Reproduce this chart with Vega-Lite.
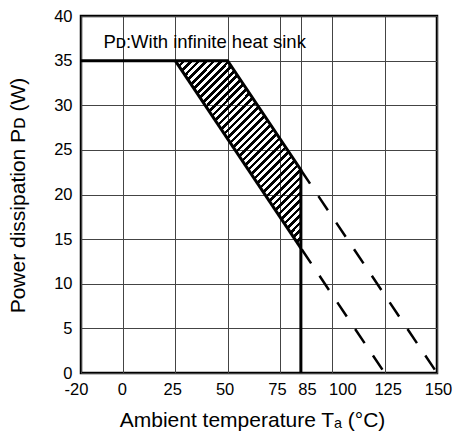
{
  "$schema": "https://vega.github.io/schema/vega-lite/v6.json",
  "autosize": {"type": "none"},
  "padding": {"left": 81, "top": 16, "right": 19, "bottom": 59},
  "width": 356,
  "height": 357,
  "background": "white",
  "config": {
    "view": {"stroke": "black", "strokeWidth": 2.5},
    "font": "Liberation Sans",
    "axis": {
      "labelFont": "Liberation Sans",
      "titleFont": "Liberation Sans",
      "labelColor": "black",
      "titleColor": "black",
      "labelFontSize": 16.5,
      "titleFontSize": 21,
      "titleFontWeight": "normal",
      "titleBaseline": "alphabetic",
      "ticks": false,
      "domain": false,
      "gridColor": "#444",
      "gridWidth": 1,
      "gridOpacity": 1,
      "labelFlush": false,
      "labelOverlap": false
    }
  },
  "layer": [
    {
      "data": {"values": [
        {"t": 25, "lo": 35, "hi": 35},
        {"t": 50, "lo": 26.25, "hi": 35},
        {"t": 85, "lo": 14, "hi": 22.75}
      ]},
      "mark": {
        "type": "area",
        "fill": {
          "gradient": "linear",
          "x1": 0, "y1": 0, "x2": 0.774, "y2": 1.152,
          "stops": [
            {"offset": 0, "color": "#000"}, {"offset": 0.0115, "color": "#000"}, {"offset": 0.0115, "color": "rgba(0,0,0,0)"}, {"offset": 0.024, "color": "rgba(0,0,0,0)"},
            {"offset": 0.024, "color": "#000"}, {"offset": 0.0355, "color": "#000"}, {"offset": 0.0355, "color": "rgba(0,0,0,0)"}, {"offset": 0.048, "color": "rgba(0,0,0,0)"},
            {"offset": 0.048, "color": "#000"}, {"offset": 0.0595, "color": "#000"}, {"offset": 0.0595, "color": "rgba(0,0,0,0)"}, {"offset": 0.072, "color": "rgba(0,0,0,0)"},
            {"offset": 0.072, "color": "#000"}, {"offset": 0.0835, "color": "#000"}, {"offset": 0.0835, "color": "rgba(0,0,0,0)"}, {"offset": 0.096, "color": "rgba(0,0,0,0)"},
            {"offset": 0.096, "color": "#000"}, {"offset": 0.1075, "color": "#000"}, {"offset": 0.1075, "color": "rgba(0,0,0,0)"}, {"offset": 0.12, "color": "rgba(0,0,0,0)"},
            {"offset": 0.12, "color": "#000"}, {"offset": 0.1315, "color": "#000"}, {"offset": 0.1315, "color": "rgba(0,0,0,0)"}, {"offset": 0.144, "color": "rgba(0,0,0,0)"},
            {"offset": 0.144, "color": "#000"}, {"offset": 0.1555, "color": "#000"}, {"offset": 0.1555, "color": "rgba(0,0,0,0)"}, {"offset": 0.168, "color": "rgba(0,0,0,0)"},
            {"offset": 0.168, "color": "#000"}, {"offset": 0.1795, "color": "#000"}, {"offset": 0.1795, "color": "rgba(0,0,0,0)"}, {"offset": 0.192, "color": "rgba(0,0,0,0)"},
            {"offset": 0.192, "color": "#000"}, {"offset": 0.2035, "color": "#000"}, {"offset": 0.2035, "color": "rgba(0,0,0,0)"}, {"offset": 0.216, "color": "rgba(0,0,0,0)"},
            {"offset": 0.216, "color": "#000"}, {"offset": 0.2275, "color": "#000"}, {"offset": 0.2275, "color": "rgba(0,0,0,0)"}, {"offset": 0.24, "color": "rgba(0,0,0,0)"},
            {"offset": 0.24, "color": "#000"}, {"offset": 0.2515, "color": "#000"}, {"offset": 0.2515, "color": "rgba(0,0,0,0)"}, {"offset": 0.264, "color": "rgba(0,0,0,0)"},
            {"offset": 0.264, "color": "#000"}, {"offset": 0.2755, "color": "#000"}, {"offset": 0.2755, "color": "rgba(0,0,0,0)"}, {"offset": 0.288, "color": "rgba(0,0,0,0)"},
            {"offset": 0.288, "color": "#000"}, {"offset": 0.2995, "color": "#000"}, {"offset": 0.2995, "color": "rgba(0,0,0,0)"}, {"offset": 0.312, "color": "rgba(0,0,0,0)"},
            {"offset": 0.312, "color": "#000"}, {"offset": 0.3235, "color": "#000"}, {"offset": 0.3235, "color": "rgba(0,0,0,0)"}, {"offset": 0.336, "color": "rgba(0,0,0,0)"},
            {"offset": 0.336, "color": "#000"}, {"offset": 0.3475, "color": "#000"}, {"offset": 0.3475, "color": "rgba(0,0,0,0)"}, {"offset": 0.36, "color": "rgba(0,0,0,0)"},
            {"offset": 0.36, "color": "#000"}, {"offset": 0.3715, "color": "#000"}, {"offset": 0.3715, "color": "rgba(0,0,0,0)"}, {"offset": 0.384, "color": "rgba(0,0,0,0)"},
            {"offset": 0.384, "color": "#000"}, {"offset": 0.3955, "color": "#000"}, {"offset": 0.3955, "color": "rgba(0,0,0,0)"}, {"offset": 0.408, "color": "rgba(0,0,0,0)"},
            {"offset": 0.408, "color": "#000"}, {"offset": 0.4195, "color": "#000"}, {"offset": 0.4195, "color": "rgba(0,0,0,0)"}, {"offset": 0.432, "color": "rgba(0,0,0,0)"},
            {"offset": 0.432, "color": "#000"}, {"offset": 0.4435, "color": "#000"}, {"offset": 0.4435, "color": "rgba(0,0,0,0)"}, {"offset": 0.456, "color": "rgba(0,0,0,0)"},
            {"offset": 0.456, "color": "#000"}, {"offset": 0.4675, "color": "#000"}, {"offset": 0.4675, "color": "rgba(0,0,0,0)"}, {"offset": 0.48, "color": "rgba(0,0,0,0)"},
            {"offset": 0.48, "color": "#000"}, {"offset": 0.4915, "color": "#000"}, {"offset": 0.4915, "color": "rgba(0,0,0,0)"}, {"offset": 0.504, "color": "rgba(0,0,0,0)"},
            {"offset": 0.504, "color": "#000"}, {"offset": 0.5155, "color": "#000"}, {"offset": 0.5155, "color": "rgba(0,0,0,0)"}, {"offset": 0.528, "color": "rgba(0,0,0,0)"},
            {"offset": 0.528, "color": "#000"}, {"offset": 0.5395, "color": "#000"}, {"offset": 0.5395, "color": "rgba(0,0,0,0)"}, {"offset": 0.552, "color": "rgba(0,0,0,0)"},
            {"offset": 0.552, "color": "#000"}, {"offset": 0.5635, "color": "#000"}, {"offset": 0.5635, "color": "rgba(0,0,0,0)"}, {"offset": 0.576, "color": "rgba(0,0,0,0)"},
            {"offset": 0.576, "color": "#000"}, {"offset": 0.5875, "color": "#000"}, {"offset": 0.5875, "color": "rgba(0,0,0,0)"}, {"offset": 0.6, "color": "rgba(0,0,0,0)"},
            {"offset": 0.6, "color": "#000"}, {"offset": 0.6115, "color": "#000"}, {"offset": 0.6115, "color": "rgba(0,0,0,0)"}, {"offset": 0.624, "color": "rgba(0,0,0,0)"},
            {"offset": 0.624, "color": "#000"}, {"offset": 0.6355, "color": "#000"}, {"offset": 0.6355, "color": "rgba(0,0,0,0)"}, {"offset": 0.648, "color": "rgba(0,0,0,0)"},
            {"offset": 0.648, "color": "#000"}, {"offset": 0.6595, "color": "#000"}, {"offset": 0.6595, "color": "rgba(0,0,0,0)"}, {"offset": 0.672, "color": "rgba(0,0,0,0)"},
            {"offset": 0.672, "color": "#000"}, {"offset": 0.6835, "color": "#000"}, {"offset": 0.6835, "color": "rgba(0,0,0,0)"}, {"offset": 0.696, "color": "rgba(0,0,0,0)"},
            {"offset": 0.696, "color": "#000"}, {"offset": 0.7075, "color": "#000"}, {"offset": 0.7075, "color": "rgba(0,0,0,0)"}, {"offset": 0.72, "color": "rgba(0,0,0,0)"},
            {"offset": 0.72, "color": "#000"}, {"offset": 0.7315, "color": "#000"}, {"offset": 0.7315, "color": "rgba(0,0,0,0)"}, {"offset": 0.744, "color": "rgba(0,0,0,0)"},
            {"offset": 0.744, "color": "#000"}, {"offset": 0.7555, "color": "#000"}, {"offset": 0.7555, "color": "rgba(0,0,0,0)"}, {"offset": 0.768, "color": "rgba(0,0,0,0)"},
            {"offset": 0.768, "color": "#000"}, {"offset": 0.7795, "color": "#000"}, {"offset": 0.7795, "color": "rgba(0,0,0,0)"}, {"offset": 0.792, "color": "rgba(0,0,0,0)"},
            {"offset": 0.792, "color": "#000"}, {"offset": 0.8035, "color": "#000"}, {"offset": 0.8035, "color": "rgba(0,0,0,0)"}, {"offset": 0.816, "color": "rgba(0,0,0,0)"},
            {"offset": 0.816, "color": "#000"}, {"offset": 0.8275, "color": "#000"}, {"offset": 0.8275, "color": "rgba(0,0,0,0)"}, {"offset": 0.84, "color": "rgba(0,0,0,0)"},
            {"offset": 0.84, "color": "#000"}, {"offset": 0.8515, "color": "#000"}, {"offset": 0.8515, "color": "rgba(0,0,0,0)"}, {"offset": 0.864, "color": "rgba(0,0,0,0)"},
            {"offset": 0.864, "color": "#000"}, {"offset": 0.8755, "color": "#000"}, {"offset": 0.8755, "color": "rgba(0,0,0,0)"}, {"offset": 0.888, "color": "rgba(0,0,0,0)"},
            {"offset": 0.888, "color": "#000"}, {"offset": 0.8995, "color": "#000"}, {"offset": 0.8995, "color": "rgba(0,0,0,0)"}, {"offset": 0.912, "color": "rgba(0,0,0,0)"},
            {"offset": 0.912, "color": "#000"}, {"offset": 0.9235, "color": "#000"}, {"offset": 0.9235, "color": "rgba(0,0,0,0)"}, {"offset": 0.936, "color": "rgba(0,0,0,0)"},
            {"offset": 0.936, "color": "#000"}, {"offset": 0.9475, "color": "#000"}, {"offset": 0.9475, "color": "rgba(0,0,0,0)"}, {"offset": 0.96, "color": "rgba(0,0,0,0)"},
            {"offset": 0.96, "color": "#000"}, {"offset": 0.9715, "color": "#000"}, {"offset": 0.9715, "color": "rgba(0,0,0,0)"}, {"offset": 0.984, "color": "rgba(0,0,0,0)"},
            {"offset": 0.984, "color": "#000"}, {"offset": 0.9955, "color": "#000"}, {"offset": 0.9955, "color": "rgba(0,0,0,0)"}, {"offset": 1, "color": "rgba(0,0,0,0)"}
          ]
        },
        "stroke": null
      },
      "encoding": {
        "x": {
          "field": "t", "type": "quantitative",
          "scale": {"domain": [-20, 150], "nice": false, "zero": false},
          "axis": {
            "values": [-20, 0, 25, 50, 75, 85, 100, 125, 150],
            "labelExpr": "replace(datum.label, '−', '-')",
            "labelPadding": 8,
            "labelOffset": {
              "condition": [
                {"test": "datum.value == -20", "value": -5},
                {"test": "datum.value == 0", "value": -1},
                {"test": "datum.value == 85", "value": 6},
                {"test": "datum.value == 100", "value": 10},
                {"test": "datum.value == 125", "value": 3},
                {"test": "datum.value == 150", "value": 1}
              ],
              "value": -3
            },
            "title": "Ambient temperature Tₐ (°C)",
            "titleX": 171,
            "titleY": 53,
            "titleAlign": "center"
          }
        },
        "y": {
          "field": "lo", "type": "quantitative",
          "scale": {"domain": [0, 40], "nice": false, "zero": true},
          "axis": {
            "values": [0, 5, 10, 15, 20, 25, 30, 35, 40],
            "labelPadding": 9,
            "title": "Power dissipation Pᴅ (W)",
            "titleX": -56.5,
            "titleY": 179,
            "titleAngle": -90,
            "titleAlign": "center"
          }
        },
        "y2": {"field": "hi"}
      }
    },
    {
      "data": {"values": [
        {"s": "limit", "o": 1, "t": -20, "p": 35},
        {"s": "limit", "o": 2, "t": 50, "p": 35},
        {"s": "limit", "o": 3, "t": 85, "p": 22.75},
        {"s": "limit", "o": 4, "t": 85, "p": 0},
        {"s": "lower", "o": 1, "t": 25, "p": 35},
        {"s": "lower", "o": 2, "t": 85, "p": 14}
      ]},
      "mark": {"type": "line", "color": "black", "strokeWidth": 3},
      "encoding": {
        "x": {"field": "t", "type": "quantitative"},
        "y": {"field": "p", "type": "quantitative"},
        "detail": {"field": "s"},
        "order": {"field": "o"}
      }
    },
    {
      "data": {"values": [
        {"s": "d1", "o": 1, "t": 150, "p": 0},
        {"s": "d1", "o": 2, "t": 85, "p": 22.75},
        {"s": "d2", "o": 1, "t": 125, "p": 0},
        {"s": "d2", "o": 2, "t": 85, "p": 14}
      ]},
      "mark": {"type": "line", "color": "black", "strokeWidth": 2.5, "strokeDash": [17, 15], "strokeDashOffset": 28},
      "encoding": {
        "x": {"field": "t", "type": "quantitative"},
        "y": {"field": "p", "type": "quantitative"},
        "detail": {"field": "s"},
        "order": {"field": "o"}
      }
    },
    {
      "data": {"values": [
        {"t": -9.3, "p": 37.1, "label": "Pᴅ:With infinite heat sink"}
      ]},
      "mark": {"type": "text", "align": "left", "baseline": "middle", "fontSize": 18.5, "font": "Liberation Sans", "color": "black"},
      "encoding": {
        "x": {"field": "t", "type": "quantitative"},
        "y": {"field": "p", "type": "quantitative"},
        "text": {"field": "label"}
      }
    }
  ]
}
